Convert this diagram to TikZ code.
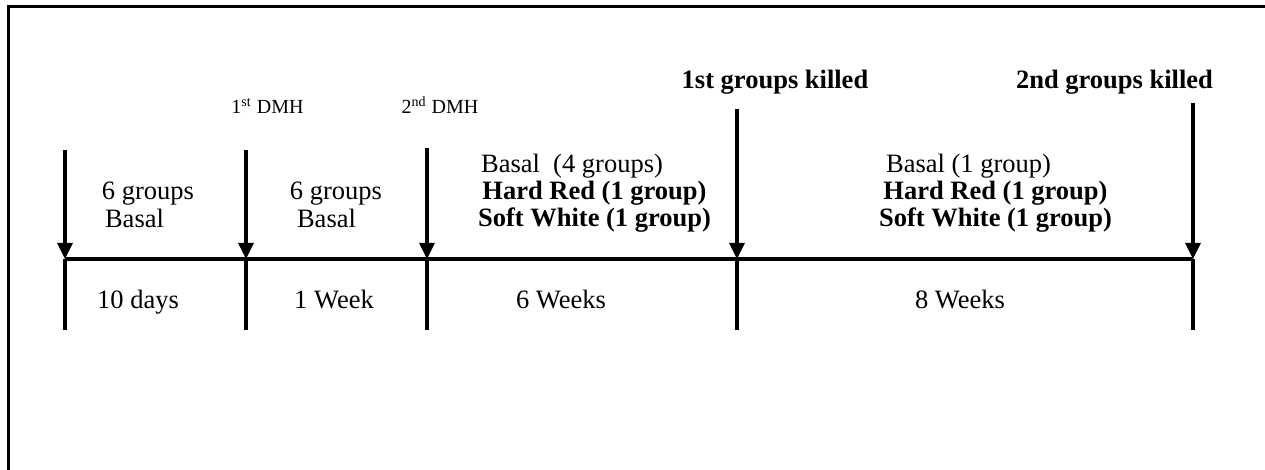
\documentclass[tikz,border=0pt]{standalone}
\usepackage{fontspec}
\setmainfont{Liberation Serif}
\usepackage{tikz}
\usetikzlibrary{arrows.meta}

\begin{document}
\begin{tikzpicture}[x=0.5pt,y=-0.5pt,
    axis/.style={line width=1.6pt},
    evt/.style={line width=1.6pt,-{Triangle[width=7.5pt,length=8pt]}},
    lbl/.style={anchor=base,inner sep=0pt,font=\fontsize{13.25}{14}\selectfont},
    blbl/.style={lbl,font=\fontsize{13.25}{14}\selectfont\bfseries},
    slbl/.style={anchor=base,inner sep=0pt,font=\fontsize{10}{12}\selectfont}]
  \useasboundingbox (0,0) rectangle (1265,470);
  \draw[line width=1.4pt] (8.5,470) |- (1265,6.5);
  % time points
  \foreach \n/\x/\t in {0/65/150,1/246/150,2/427/148,3/737/109,4/1193/103} {
    \coordinate (top\n) at (\x,\t);
    \coordinate (m\n) at (\x,259);
    \coordinate (bot\n) at (\x,330);
  }
  \draw[axis] (m0) -- (m4);
  \foreach \n in {0,...,4} {
    \draw[evt] (top\n) -- (m\n);
    \draw[axis] (m\n) -- (bot\n);
  }
  % events
  \node[slbl] (dmh1) at (267.5,114) {1\textsuperscript{st} DMH};
  \node[slbl] (dmh2) at (440,114) {2\textsuperscript{nd} DMH};
  \node[blbl] (kill1) at (775,89) {1st groups killed};
  \node[blbl] (kill2) at (1114.5,89) {2nd groups killed};
  % groups
  \node[lbl] (grpA) at (148,200) {6 groups};
  \node[lbl] (basA) at (134.5,228) {Basal};
  \node[lbl] (grpB) at (336,200) {6 groups};
  \node[lbl] (basB) at (326.5,228) {Basal};
  \node[lbl] (basC) at (572,173) {Basal\ \ (4 groups)};
  \node[blbl] (hardC) at (594.5,200) {Hard Red (1 group)};
  \node[blbl] (softC) at (594.5,227) {Soft White (1 group)};
  \node[lbl] (basD) at (968.5,173) {Basal (1 group)};
  \node[blbl] (hardD) at (995.5,200) {Hard Red (1 group)};
  \node[blbl] (softD) at (995.5,227) {Soft White (1 group)};
  % durations
  \node[lbl] (dur0) at (138,309) {10 days};
  \node[lbl] (dur1) at (334,309) {1 Week};
  \node[lbl] (dur2) at (561,309) {6 Weeks};
  \node[lbl] (dur3) at (960,309) {8 Weeks};
\end{tikzpicture}
\end{document}
